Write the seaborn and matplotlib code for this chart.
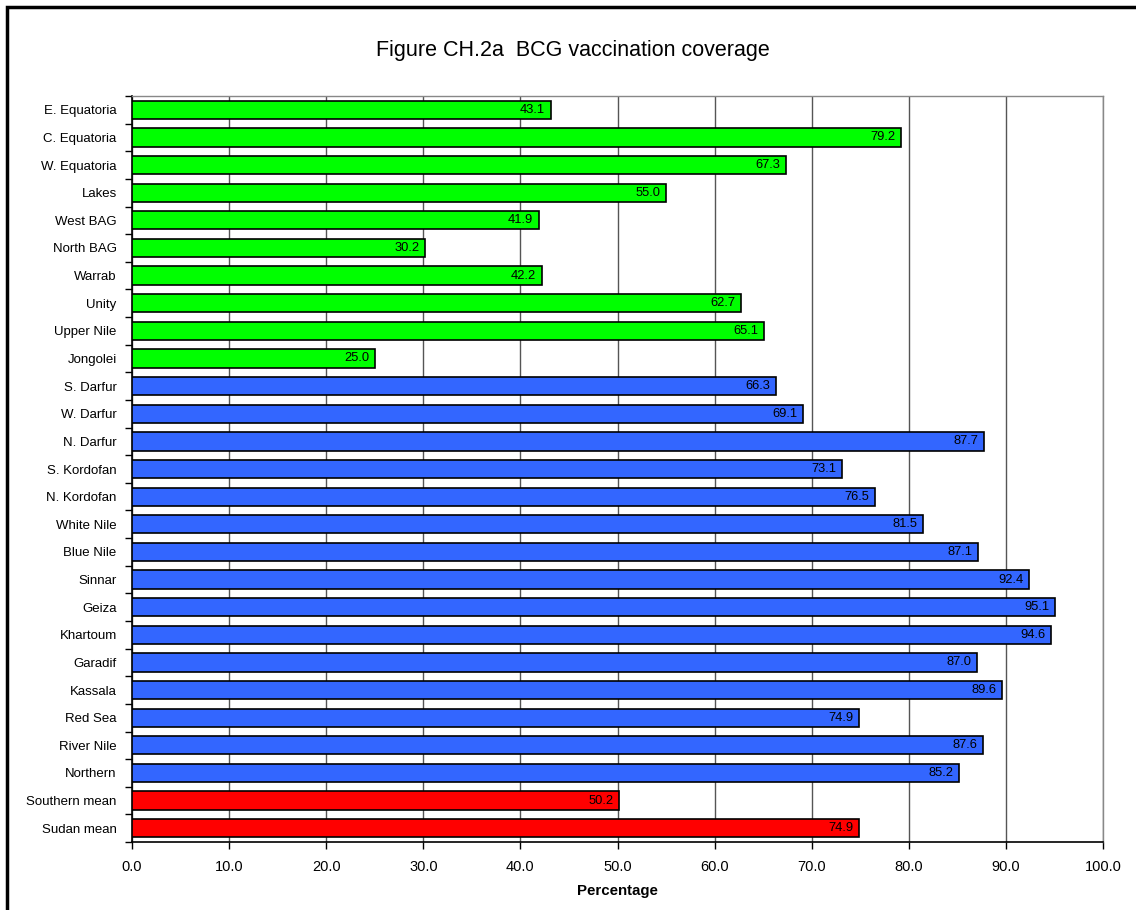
import seaborn as sns
import pandas as pd
import numpy as np
import matplotlib.pyplot as plt
from matplotlib.patches import Rectangle

regions = ['E. Equatoria', 'C. Equatoria', 'W. Equatoria', 'Lakes', 'West BAG',
           'North BAG', 'Warrab', 'Unity', 'Upper Nile', 'Jongolei',
           'S. Darfur', 'W. Darfur', 'N. Darfur', 'S. Kordofan', 'N. Kordofan',
           'White Nile', 'Blue Nile', 'Sinnar', 'Geiza', 'Khartoum', 'Garadif',
           'Kassala', 'Red Sea', 'River Nile', 'Northern',
           'Southern mean', 'Sudan mean']
coverage = [43.1, 79.2, 67.3, 55.0, 41.9, 30.2, 42.2, 62.7, 65.1, 25.0,
            66.3, 69.1, 87.7, 73.1, 76.5, 81.5, 87.1, 92.4, 95.1, 94.6, 87.0,
            89.6, 74.9, 87.6, 85.2, 50.2, 74.9]
group = ['south'] * 10 + ['north'] * 15 + ['mean'] * 2
palette = {'south': '#00FF00', 'north': '#3366FF', 'mean': '#FF0000'}

df = pd.DataFrame({'region': regions, 'coverage': coverage, 'group': group})

sns.set_style('white')
plt.rcParams['font.family'] = ['Liberation Sans', 'DejaVu Sans']
plt.rcParams['text.color'] = 'black'
plt.rcParams['xtick.color'] = 'black'
plt.rcParams['ytick.color'] = 'black'
plt.rcParams['axes.labelcolor'] = 'black'

fig = plt.figure(figsize=(11.36, 9.10), dpi=100)
ax = fig.add_axes([0.1162, 0.0747, 0.8548, 0.8198])

sns.barplot(data=df, x='coverage', y='region', hue='group', palette=palette,
            dodge=False, legend=False, width=0.66, edgecolor='black',
            linewidth=1.2, saturation=1, ax=ax, zorder=3)

for i, v in enumerate(df['coverage']):
    ax.annotate(f'{v:.1f}', xy=(v, i), xytext=(-4, 0), textcoords='offset points',
                ha='right', va='center', fontsize=9.3, zorder=4)

ax.set_xlim(0, 100)
ax.set_ylim(len(regions) - 0.5, -0.5)
ax.set_xticks(np.arange(0, 101, 10))
ax.set_xticklabels([f'{v:.1f}' for v in np.arange(0, 101, 10)], fontsize=10.5)
ax.xaxis.grid(True, color='#555555', linewidth=1.0, zorder=0)
ax.set_axisbelow(True)
ax.tick_params(axis='x', direction='out', length=5, width=1, color='black',
               bottom=True, pad=8)
ax.tick_params(axis='y', which='major', length=0, labelsize=9.5, pad=11)
ax.set_yticks(np.arange(-0.5, len(regions), 1), minor=True)
ax.tick_params(axis='y', which='minor', length=5, width=1, color='black', left=True)

for side in ['left', 'bottom']:
    ax.spines[side].set_color('black')
    ax.spines[side].set_linewidth(1.2)
for side in ['top', 'right']:
    ax.spines[side].set_color('#888888')
    ax.spines[side].set_linewidth(1.0)

ax.set_xlabel('Percentage', fontsize=10.8, fontweight='bold', labelpad=7)
ax.set_ylabel('')

fig.text(0.504, 0.945, 'Figure CH.2a  BCG vaccination coverage', ha='center',
         va='center', fontsize=15.5)

fig.patches.append(Rectangle((0.0062, -0.1), 1.1, 1.0923, transform=fig.transFigure,
                             fill=False, edgecolor='black', linewidth=2.5))

fig.savefig('out.png', dpi=100)
